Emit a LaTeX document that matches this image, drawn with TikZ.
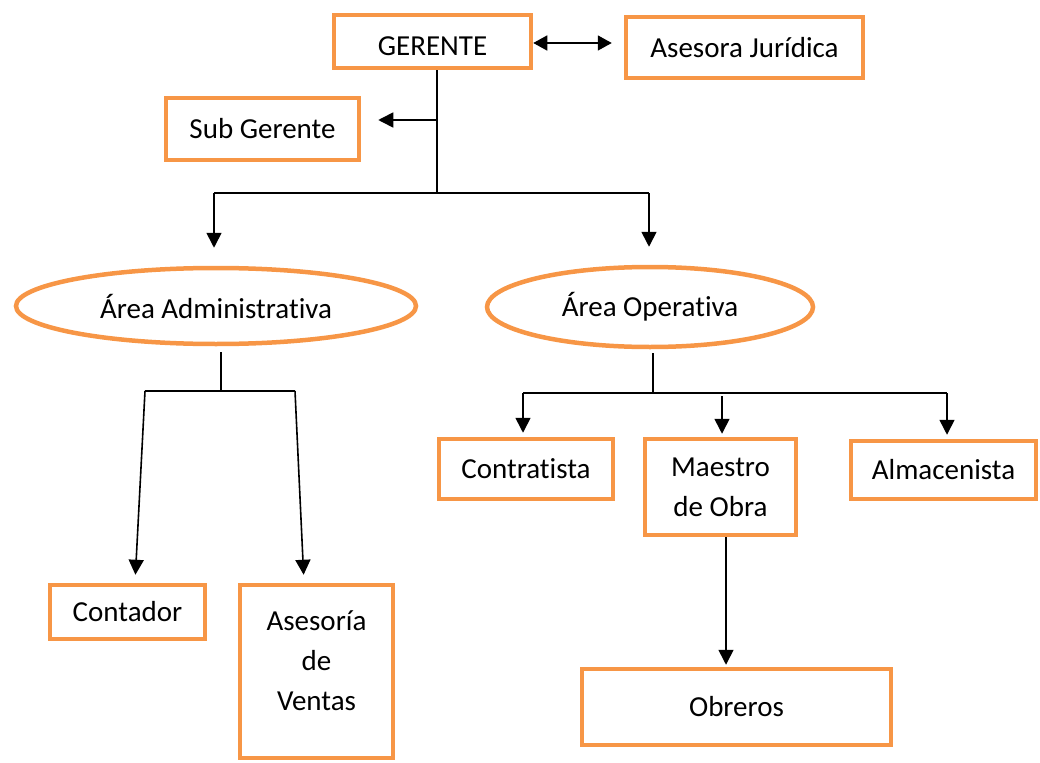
\documentclass[tikz,border=0pt]{standalone}
\usepackage{fontspec}
\setmainfont{Carlito}[Ligatures=NoCommon]
\usetikzlibrary{arrows.meta,shapes.geometric}
\definecolor{naranja}{RGB}{247,150,70}
\tikzset{
    box/.style = {
        draw = naranja,
        line width = 4.5pt,
        rectangle,
        inner sep = 0pt,
        align = center,
        font = \fontsize{29}{40}\selectfont,
        },
    area/.style = {
        draw = naranja,
        line width = 4.5pt,
        ellipse,
        inner sep = 0pt,
        font = \fontsize{29}{40}\selectfont,
        },
    conn/.style = {
        line width = 1.6pt,
        },
    arr/.style = {
        line width = 1.6pt,
        -{Triangle[width=15pt,length=15pt]},
        },
    dblarr/.style = {
        line width = 1.6pt,
        {Triangle[width=15pt,length=14pt]}-{Triangle[width=15pt,length=14pt]},
        },
}

\begin{document}
\begin{tikzpicture}[x=1pt, y=-1pt]
            \useasboundingbox (0,0) rectangle (1040,762);

            \node[box, minimum width=197, minimum height=53, text height=28pt, text depth=0pt] (gerente) at (432.5,41.5) {GERENTE};
            \node[box, minimum width=237, minimum height=61] (asesora) at (744.5,47.5) {Asesora Jurídica};
            \node[box, minimum width=193, minimum height=62] (subger) at (262.5,129) {Sub Gerente};
            \node[area, minimum width=400, minimum height=76] (admin) at (216,306) {Área Administrativa};
            \node[area, minimum width=326, minimum height=80] (oper) at (650,307) {Área Operativa};
            \node[box, minimum width=174, minimum height=60] (contrat) at (526,469) {Contratista};
            \node[box, minimum width=151, minimum height=96] (maestro) at (720.5,487) {Maestro\\de Obra};
            \node[box, minimum width=185, minimum height=58] (almacen) at (943.5,470) {Almacenista};
            \node[box, minimum width=155, minimum height=54] (contador) at (127.5,612) {Contador};
            \node[box, minimum width=153, minimum height=173] (asesoria) at (316.5,671.5) {Asesoría\\de\\Ventas\\[-19pt]\mbox{}};
            \node[box, minimum width=309, minimum height=76] (obreros) at (736.5,707) {Obreros};

            % gerencia
            \coordinate (tronco) at (437,193);
            \coordinate (sg) at (437,120);
            \coordinate (barra izq) at (214,193);
            \coordinate (barra der) at (649,193);
            \draw[dblarr, shorten >=12pt] (gerente.east |- 0,43) -- (asesora.west |- 0,43);
            \draw[conn] ([xshift=4.5pt]gerente.south) -- (tronco);
            \draw[arr, shorten >=17pt] (sg) -- (subger.east |- sg);
            \draw[conn] (barra izq) -- (barra der);
            \draw[arr, shorten >=18pt] (barra izq) -- (barra izq |- admin.north);
            \draw[arr, shorten >=18pt] (barra der) -- (barra der |- oper.north);

            % area administrativa
            \coordinate (ad izq) at (145,391);
            \coordinate (ad der) at (295,391);
            \draw[conn] ([xshift=5pt,yshift=-6pt]admin.south) -- (221,391);
            \draw[conn] (ad izq) -- (ad der);
            \draw[arr, shorten >=8pt] (ad izq) -- ([xshift=7.5pt]contador.north);
            \draw[arr, shorten >=8pt] (ad der) -- ([xshift=-12.5pt]asesoria.north);

            % area operativa
            \coordinate (op izq) at (523,393);
            \coordinate (op med) at (722,393);
            \coordinate (op der) at (947,393);
            \draw[conn] ([xshift=3pt,yshift=-4pt]oper.south) -- (653,393);
            \draw[conn] (op izq) -- (op der);
            \draw[arr, shorten >=4pt] (op izq) -- (op izq |- contrat.north);
            \draw[arr, shorten >=3pt] ([yshift=-3pt]op med) -- (op med |- maestro.north);
            \draw[arr, shorten >=4pt] (op der) -- (op der |- almacen.north);
            \draw[arr, shorten >=2pt] ([xshift=5.5pt]maestro.south) -- ([xshift=5.5pt]maestro.south |- obreros.north);
        \end{tikzpicture}
\end{document}
